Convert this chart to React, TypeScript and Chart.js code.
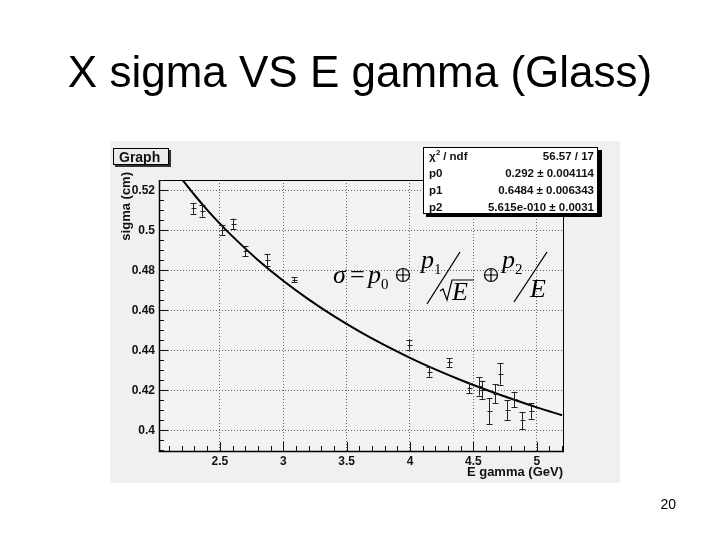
import React, { useEffect, useRef } from "react";
import { Chart, registerables } from "chart.js";
Chart.register(...registerables);

const TITLE = "X sigma VS E gamma (Glass)";
const PAGE_NUMBER = "20";
const X_LABEL = "E gamma (GeV)";
const Y_LABEL = "sigma (cm)";
const GRAPH_LABEL = "Graph";
const X_TICKS = [2.5, 3, 3.5, 4, 4.5, 5];
const Y_TICKS = [0.4, 0.42, 0.44, 0.46, 0.48, 0.5, 0.52];
const X_MIN = 2.02;
const X_MAX = 5.215;
const Y_MIN = 0.3897;
const Y_MAX = 0.5252;

// measured points
const E_VALUES = [2.285, 2.363, 2.52, 2.607, 2.695, 2.873, 3.084, 3.99, 4.15, 4.31, 4.468, 4.547, 4.57, 4.62, 4.67, 4.71, 4.763, 4.823, 4.886, 4.952];
const SIGMA_VALUES = [0.511, 0.5098, 0.5003, 0.5032, 0.4895, 0.4853, 0.4753, 0.4429, 0.4292, 0.434, 0.4212, 0.422, 0.4203, 0.4097, 0.4183, 0.4283, 0.41, 0.4155, 0.405, 0.4097];
const SIGMA_ERRORS = [0.0028, 0.003, 0.0025, 0.0027, 0.0025, 0.003, 0.0012, 0.0025, 0.0024, 0.0022, 0.0027, 0.0046, 0.0046, 0.0065, 0.0048, 0.0054, 0.005, 0.0038, 0.0043, 0.0039];

// fitted curve
const FIT_E = [2.2, 2.3, 2.4, 2.5, 2.6, 2.8, 3.0, 3.2, 3.4, 3.6, 3.8, 4.0, 4.2, 4.4, 4.6, 4.8, 5.0, 5.2];
const FIT_SIGMA = [0.5257, 0.5177, 0.5103, 0.5034, 0.497, 0.4852, 0.4748, 0.4655, 0.4571, 0.4495, 0.4426, 0.4363, 0.4305, 0.4252, 0.4203, 0.4158, 0.4115, 0.4076];

// stats box
const STAT_NAMES = ["p0", "p1", "p2"];
const STAT_VALUES = ["0.292 ± 0.004114", "0.6484 ± 0.006343", "5.615e-010 ± 0.0031"];
const CHI2_TEXT = "56.57 / 17";

const SANS = "'Liberation Sans', Arial, Helvetica, sans-serif";
const SERIF = "'Liberation Serif', 'Times New Roman', serif";

const decorPlugin = {
  id: "rootDecor",
  beforeDraw(chart: any) {
    const ctx = chart.ctx;
    const a = chart.chartArea;
    ctx.save();
    ctx.fillStyle = "#f0f0f0";
    ctx.fillRect(110, 141, 510, 342);
    ctx.fillStyle = "#f2f2f2";
    ctx.fillRect(a.left, a.top, a.right - a.left, a.bottom - a.top);
    ctx.restore();
  },
  afterDatasetsDraw(chart: any) {
    const ctx = chart.ctx;
    const xs = chart.scales.x;
    const ys = chart.scales.y;
    const a = chart.chartArea;
    ctx.save();
    ctx.beginPath();
    ctx.rect(a.left, a.top, a.right - a.left, a.bottom - a.top);
    ctx.clip();
    ctx.strokeStyle = "#222";
    ctx.lineWidth = 1;
    for (let i = 0; i < E_VALUES.length; i++) {
      const px = Math.round(xs.getPixelForValue(E_VALUES[i])) + 0.5;
      const py = ys.getPixelForValue(SIGMA_VALUES[i]);
      const top = ys.getPixelForValue(SIGMA_VALUES[i] + SIGMA_ERRORS[i]);
      const bot = ys.getPixelForValue(SIGMA_VALUES[i] - SIGMA_ERRORS[i]);
      ctx.beginPath();
      ctx.moveTo(px, top);
      ctx.lineTo(px, bot);
      ctx.moveTo(px - 3, Math.round(top) + 0.5);
      ctx.lineTo(px + 3, Math.round(top) + 0.5);
      ctx.moveTo(px - 3, Math.round(bot) + 0.5);
      ctx.lineTo(px + 3, Math.round(bot) + 0.5);
      ctx.moveTo(px - 2, Math.round(py) + 0.5);
      ctx.lineTo(px + 3, Math.round(py) + 0.5);
      ctx.stroke();
    }
    ctx.restore();
  },
  afterDraw(chart: any) {
    const ctx = chart.ctx;
    const xs = chart.scales.x;
    const ys = chart.scales.y;
    const a = chart.chartArea;
    ctx.save();
    // frame
    ctx.strokeStyle = "#000";
    ctx.lineWidth = 1;
    ctx.strokeRect(a.left + 0.5, a.top + 0.5, a.right - a.left - 1, a.bottom - a.top);
    ctx.lineWidth = 1.5;
    ctx.beginPath();
    ctx.moveTo(a.left + 0.5, a.top);
    ctx.lineTo(a.left + 0.5, a.bottom + 0.5);
    ctx.lineTo(a.right, a.bottom + 0.5);
    ctx.stroke();
    // ticks
    ctx.lineWidth = 1;
    ctx.strokeStyle = "#111";
    ctx.beginPath();
    for (let k = Math.ceil(X_MIN * 10); k <= Math.floor(X_MAX * 10); k++) {
      const v = k / 10;
      const px = Math.round(xs.getPixelForValue(v)) + 0.5;
      const major = k % 5 === 0;
      ctx.moveTo(px, a.bottom);
      ctx.lineTo(px, a.bottom - (major ? 9 : 5));
    }
    for (let k = Math.ceil(Y_MIN * 200); k <= Math.floor(Y_MAX * 200); k++) {
      const v = k / 200;
      const py = Math.round(ys.getPixelForValue(v)) + 0.5;
      const major = k % 4 === 0;
      ctx.moveTo(a.left, py);
      ctx.lineTo(a.left + (major ? 9 : 5), py);
    }
    ctx.stroke();

    // axis titles
    ctx.fillStyle = "#111";
    ctx.font = `bold 13px ${SANS}`;
    ctx.textAlign = "right";
    ctx.textBaseline = "alphabetic";
    ctx.fillText(X_LABEL, a.right - 1, 476);
    ctx.save();
    ctx.translate(130, 172);
    ctx.rotate(-Math.PI / 2);
    ctx.textAlign = "right";
    ctx.fillText(Y_LABEL, 0, 0);
    ctx.restore();

    // Graph box
    ctx.fillStyle = "#333";
    ctx.fillRect(115, 150, 56, 17);
    ctx.fillStyle = "#ececec";
    ctx.fillRect(113, 148, 56, 17);
    ctx.strokeStyle = "#000";
    ctx.strokeRect(113.5, 148.5, 55, 16);
    ctx.fillStyle = "#111";
    ctx.font = `bold 14px ${SANS}`;
    ctx.textAlign = "left";
    ctx.fillText(GRAPH_LABEL, 119, 162);

    // stats box
    ctx.fillStyle = "#000";
    ctx.fillRect(426, 150, 176, 67);
    ctx.fillStyle = "#fff";
    ctx.fillRect(423, 147, 175, 67);
    ctx.strokeStyle = "#000";
    ctx.strokeRect(423.5, 147.5, 174, 66);
    ctx.fillStyle = "#111";
    ctx.font = `bold 11.5px ${SANS}`;
    ctx.textAlign = "left";
    ctx.fillText("χ", 429, 160);
    ctx.font = `bold 8px ${SANS}`;
    ctx.fillText("2", 436, 155);
    ctx.font = `bold 11.5px ${SANS}`;
    ctx.fillText(" / ndf", 440, 160);
    ctx.textAlign = "right";
    ctx.fillText(CHI2_TEXT, 594, 160);
    for (let i = 0; i < STAT_NAMES.length; i++) {
      const by = 177 + i * 17;
      ctx.textAlign = "left";
      ctx.fillText(STAT_NAMES[i], 429, by);
      ctx.textAlign = "right";
      ctx.fillText(STAT_VALUES[i], 594, by);
    }

    // formula
    ctx.fillStyle = "#000";
    ctx.strokeStyle = "#000";
    ctx.textAlign = "left";
    ctx.font = `italic 26px ${SERIF}`;
    ctx.fillText("σ", 333, 283);
    ctx.font = `26px ${SERIF}`;
    ctx.fillText("=", 350, 283);
    ctx.font = `italic 26px ${SERIF}`;
    ctx.fillText("p", 368, 283);
    ctx.font = `15px ${SERIF}`;
    ctx.fillText("0", 381, 289);
    const oplus = (cx: number, cy: number) => {
      ctx.lineWidth = 1.2;
      ctx.beginPath();
      ctx.arc(cx, cy, 6.5, 0, Math.PI * 2);
      ctx.moveTo(cx - 6.5, cy);
      ctx.lineTo(cx + 6.5, cy);
      ctx.moveTo(cx, cy - 6.5);
      ctx.lineTo(cx, cy + 6.5);
      ctx.stroke();
    };
    oplus(403, 275);
    ctx.font = `italic 26px ${SERIF}`;
    ctx.fillText("p", 421, 268);
    ctx.font = `15px ${SERIF}`;
    ctx.fillText("1", 434, 274);
    ctx.lineWidth = 1.3;
    ctx.beginPath();
    ctx.moveTo(427, 304);
    ctx.lineTo(460, 252);
    ctx.stroke();
    // sqrt
    ctx.beginPath();
    ctx.lineWidth = 1.2;
    ctx.moveTo(440, 291);
    ctx.lineTo(443, 289);
    ctx.lineTo(447, 300);
    ctx.lineTo(452, 280);
    ctx.lineTo(474, 280);
    ctx.stroke();
    ctx.font = `italic 26px ${SERIF}`;
    ctx.fillText("E", 452, 300);
    oplus(491, 275);
    ctx.fillText("p", 502, 268);
    ctx.font = `15px ${SERIF}`;
    ctx.fillText("2", 515, 274);
    ctx.lineWidth = 1.3;
    ctx.beginPath();
    ctx.moveTo(514, 302);
    ctx.lineTo(547, 252);
    ctx.stroke();
    ctx.font = `italic 26px ${SERIF}`;
    ctx.fillText("E", 530, 297);
    ctx.restore();
  },
};

export default function App() {
  const ref = useRef<HTMLCanvasElement | null>(null);
  useEffect(() => {
    if (!ref.current) return;
    const points = E_VALUES.map((e, i) => ({ x: e, y: SIGMA_VALUES[i] }));
    const fit = FIT_E.map((e, i) => ({ x: e, y: FIT_SIGMA[i] }));
    const tickFont = { family: SANS, size: 12, weight: "bold" as const };
    const chart = new Chart(ref.current, {
      type: "scatter",
      data: {
        datasets: [
          { label: "data", data: points, pointRadius: 0, showLine: false },
          {
            label: "fit",
            data: fit,
            showLine: true,
            borderColor: "#000",
            borderWidth: 2,
            pointRadius: 0,
            cubicInterpolationMode: "monotone",
          },
        ],
      },
      options: {
        animation: false,
        responsive: false,
        maintainAspectRatio: false,
        events: [],
        layout: { padding: { left: 110, right: 156, top: 180, bottom: 59 } },
        plugins: { legend: { display: false }, tooltip: { enabled: false }, title: { display: false } },
        scales: {
          x: {
            type: "linear",
            min: X_MIN,
            max: X_MAX,
            afterBuildTicks: (s: any) => {
              s.ticks = X_TICKS.map((v) => ({ value: v }));
            },
            afterFit: (s: any) => {
              s.height = 30;
            },
            grid: { color: "#666", lineWidth: 1, drawTicks: false },
            border: { display: false, dash: [1, 2] },
            ticks: {
              font: tickFont,
              color: "#111",
              padding: 3,
              autoSkip: false,
              maxRotation: 0,
              callback: (v: any) => String(v),
            },
          },
          y: {
            type: "linear",
            min: Y_MIN,
            max: Y_MAX,
            afterBuildTicks: (s: any) => {
              s.ticks = Y_TICKS.map((v) => ({ value: v }));
            },
            afterFit: (s: any) => {
              s.width = 49;
            },
            grid: { color: "#666", lineWidth: 1, drawTicks: false },
            border: { display: false, dash: [1, 2] },
            ticks: {
              font: tickFont,
              color: "#111",
              padding: 4,
              autoSkip: false,
              callback: (v: any) => String(v),
            },
          },
        },
      },
      plugins: [decorPlugin],
    } as any);
    return () => chart.destroy();
  }, []);

  return (
    <div style={{ position: "absolute", left: 0, top: 0, width: 720, height: 540, background: "#fff" }}>
      <div
        style={{
          position: "absolute",
          left: 0,
          top: 50,
          width: 720,
          textAlign: "center",
          fontFamily: SANS,
          fontSize: 44,
          lineHeight: "44px",
          color: "#000",
          zIndex: 2,
        }}
      >
        {TITLE}
      </div>
      <canvas ref={ref} width={720} height={540} style={{ position: "absolute", left: 0, top: 0, width: 720, height: 540 }} />
      <div
        style={{
          position: "absolute",
          left: 630,
          top: 497,
          width: 46,
          textAlign: "right",
          fontFamily: SANS,
          fontSize: 14,
          lineHeight: "14px",
          color: "#000",
          zIndex: 2,
        }}
      >
        {PAGE_NUMBER}
      </div>
    </div>
  );
}
